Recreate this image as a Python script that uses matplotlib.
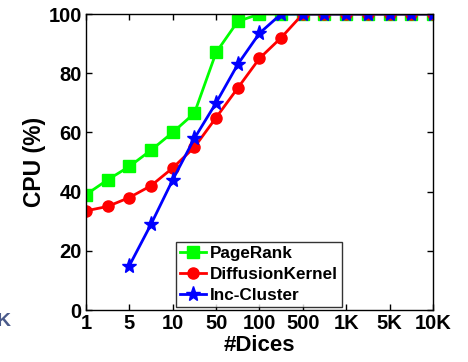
import matplotlib
matplotlib.use("Agg")
import matplotlib.pyplot as plt
import numpy as np

plt.rcParams['font.family'] = ['Liberation Sans', 'DejaVu Sans']

# x axis: evenly spaced tick labels, one measurement every half tick
tick_labels = ['1', '5', '10', '50', '100', '500', '1K', '5K', '10K']
x_pos = np.arange(17) / 2.0

pagerank = [39, 44, 48.5, 54, 60, 66.5, 87, 97.5, 100, 100, 100, 100, 100, 100, 100, 100, 100]
diffusion = [33.5, 35, 38, 42, 48, 55, 65, 75, 85, 92, 100, 100, 100, 100, 100, 100, 100]
# Inc-Cluster starts at the third point (5 dices)
inc_cluster = [15, 29, 44, 58, 70, 83, 93.5, 100, 100, 100, 100, 100, 100, 100, 100]

fig = plt.figure(figsize=(4.68, 3.62), dpi=100)
ax = fig.add_axes([0.1838, 0.1436, 0.925 - 0.1838, 0.9613 - 0.1436])

ax.plot(x_pos, pagerank, color=(0, 1, 0), lw=2, marker='s', ms=8, label='PageRank')
ax.plot(x_pos, diffusion, color=(1, 0, 0), lw=2, marker='o', ms=8, label='DiffusionKernel')
ax.plot(x_pos[2:], inc_cluster, color=(0, 0, 1), lw=2, marker='*', ms=11, label='Inc-Cluster')

ax.set_xlim(0, 8)
ax.set_ylim(0, 100)
ax.set_xticks(np.arange(len(tick_labels)))
ax.set_xticklabels(tick_labels)
ax.set_yticks([0, 20, 40, 60, 80, 100])
ax.tick_params(direction='in', top=True, right=True, length=4, width=1, pad=3)
for lab in ax.get_xticklabels() + ax.get_yticklabels():
    lab.set_fontsize(14.5)
    lab.set_fontweight('bold')
for sp in ax.spines.values():
    sp.set_linewidth(1)

ax.set_xlabel('#Dices', fontsize=16, fontweight='bold', labelpad=1)
ax.set_ylabel('CPU (%)', fontsize=16.5, fontweight='bold', labelpad=2)

leg = ax.legend(loc='lower left', bbox_to_anchor=(0.26, 0.01),
                prop={'weight': 'bold', 'size': 12.3}, frameon=True, fancybox=False,
                handlelength=1.5, handletextpad=0.2, borderpad=0.25, labelspacing=0.35,
                borderaxespad=0)
leg.get_frame().set_edgecolor('black')
leg.get_frame().set_linewidth(1)

# clipped label from the neighbouring panel
fig.text(-0.008, 0.1, 'K', fontsize=14, fontweight='bold', color='#4a5a8a')

fig.savefig('out.png', dpi=100)
